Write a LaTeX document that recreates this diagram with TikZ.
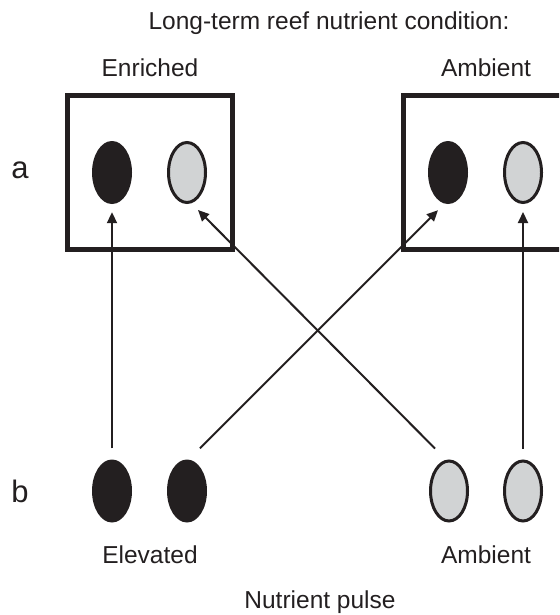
\documentclass[tikz,border=0pt]{standalone}
\usepackage{fontspec}
\setmainfont{Liberation Sans}
\usetikzlibrary{shapes.geometric,arrows.meta,calc}
\definecolor{ink}{HTML}{231F20}
\definecolor{paleg}{HTML}{D1D3D4}

\begin{document}
\begin{tikzpicture}[x=1pt,y=-1pt,
  lbl/.style={anchor=base, inner sep=0pt, text=ink, font=\fontsize{24.5}{29}\selectfont},
  rowlbl/.style={lbl, font=\fontsize{31}{36}\selectfont},
  dark/.style={ellipse, fill=ink, inner sep=0pt, minimum width=40pt, minimum height=63pt},
  pale/.style={ellipse, fill=paleg, draw=ink, line width=3pt, inner sep=0pt, minimum width=37pt, minimum height=60pt},
  frame/.style={draw=ink, line width=5pt},
  arr/.style={draw=ink, line width=2pt, -{Triangle[length=11pt,width=10pt]}}]
  \useasboundingbox (0,0) rectangle (559,615);
  \clip (0,0) rectangle (559,615);

  % Headings
  \node[lbl] (title) at (329,30) {Long-term reef nutrient condition:};
  \node[lbl] (enr) at (150,77) {Enriched};
  \node[lbl] (amb) at (486,77) {Ambient};

  % Boxes for the two reef conditions
  \draw[frame] (67,96) rectangle (232,249);
  \draw[frame] (403,96) rectangle (580,249);

  % Row a
  \node[rowlbl] (ra) at (20,178) {a};
  \node[dark] (a1) at (112,172.5) {};
  \node[pale] (a2) at (187,172.5) {};
  \node[dark] (a3) at (448,172.5) {};
  \node[pale] (a4) at (523,172.5) {};

  % Row b
  \node[rowlbl] (rb) at (20,502) {b};
  \node[dark] (b1) at (112,491) {};
  \node[dark] (b2) at (187,491) {};
  \node[pale] (b3) at (449,491) {};
  \node[pale] (b4) at (523,491) {};

  % Pulse labels
  \node[lbl] (elev) at (150,563) {Elevated};
  \node[lbl] (ambb) at (486,563) {Ambient};
  \node[lbl] (pulse) at (320,608) {Nutrient pulse};

  % Transplant arrows
  \draw[arr, shorten <=11pt, shorten >=8pt] (b1) -- (a1);
  \draw[arr] ($(b2.north)+(13,-11)$) -- ($(a3.south)+(-10,6)$);
  \draw[arr] ($(b3.north)+(-14,-11)$) -- ($(a2.south)+(11,6)$);
  \draw[arr, shorten <=11pt, shorten >=8pt] (b4) -- (a4);
\end{tikzpicture}
\end{document}
